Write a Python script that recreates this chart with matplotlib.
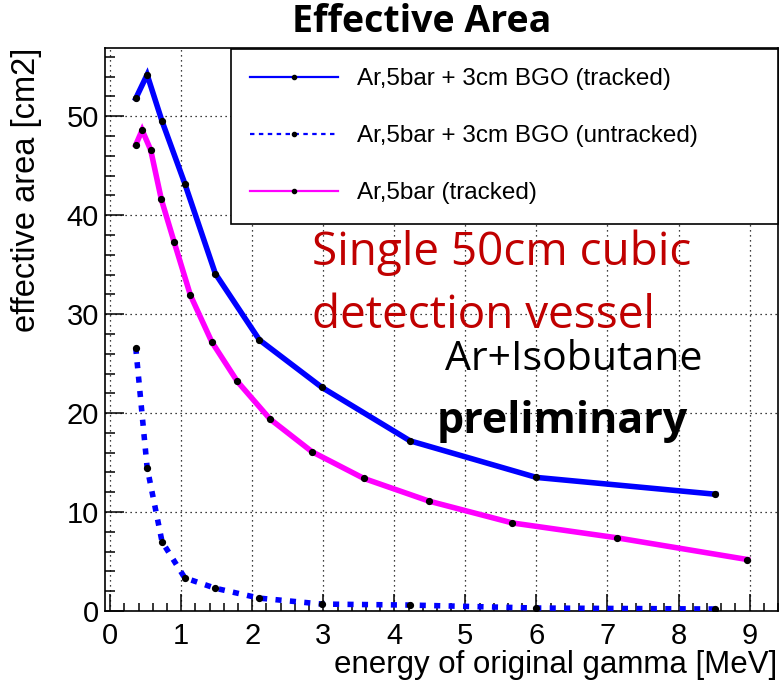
#!/usr/bin/env python3
"""
Effective area vs. gamma energy for the 50cm cubic gas vessel,
with and without the 3cm BGO layer.
"""

import matplotlib
matplotlib.use('Agg')
import matplotlib.pyplot as plt
from matplotlib.lines import Line2D
from matplotlib.ticker import MultipleLocator

# energies [MeV] and effective areas [cm2]
bgo_energy = [0.36, 0.52, 0.73, 1.05, 1.48, 2.10, 2.98, 4.22, 6.00, 8.52]
bgo_tracked = [51.8, 54.2, 49.5, 43.2, 34.1, 27.4, 22.6, 17.2, 13.5, 11.8]
bgo_untracked = [26.6, 14.5, 7.0, 3.35, 2.3, 1.3, 0.7, 0.6, 0.3, 0.2]

ar_energy = [0.36, 0.45, 0.57, 0.72, 0.90, 1.13, 1.43, 1.79, 2.25, 2.84,
             3.57, 4.49, 5.66, 7.13, 8.97]
ar_tracked = [47.1, 48.6, 46.6, 41.6, 37.3, 31.9, 27.2, 23.2, 19.4, 16.1,
              13.4, 11.1, 8.9, 7.4, 5.2]

legend_labels = ['Ar,5bar + 3cm BGO (tracked)',
                 'Ar,5bar + 3cm BGO (untracked)',
                 'Ar,5bar (tracked)']

W, H = 779, 682
ROOT_FONT = 'Liberation Sans'
SLIDE_FONT = 'Open Sans'


def fx(px):
    return px / W


def fy(py):
    return 1 - py / H


fig = plt.figure(figsize=(W / 100, H / 100), dpi=100)
ax = fig.add_axes([fx(104.5), fy(611), fx(778) - fx(104.5), fy(48) - fy(611)])

line_kw = dict(lw=4, marker='o', ms=4.2, mfc='black', mec='black',
               solid_joinstyle='miter', zorder=3)
ax.plot(bgo_energy, bgo_tracked, color='#0000ff', **line_kw)
ax.plot(bgo_energy, bgo_untracked, color='#0000ff', dashes=(1.1, 1.5),
        dash_capstyle='butt', **line_kw)
ax.plot(ar_energy, ar_tracked, color='#ff00ff', **line_kw)

ax.set_xlim(-0.08, 9.4)
ax.set_ylim(0, 56.9)
ax.xaxis.set_major_locator(MultipleLocator(1))
ax.xaxis.set_minor_locator(MultipleLocator(0.2))
ax.yaxis.set_major_locator(MultipleLocator(10))
ax.yaxis.set_minor_locator(MultipleLocator(2))
ax.grid(True, which='major', color='black', lw=0.9, linestyle=(0, (1, 3)))

ax.tick_params(axis='both', which='both', direction='in', top=False, right=False,
               width=1.1, colors='black')
ax.tick_params(axis='y', which='major', length=14, pad=4)
ax.tick_params(axis='y', which='minor', length=7)
ax.tick_params(axis='x', which='major', length=12, pad=8)
ax.tick_params(axis='x', which='minor', length=6)
for lab in ax.get_xticklabels() + ax.get_yticklabels():
    lab.set_fontfamily(ROOT_FONT)
    lab.set_fontsize(21)
for sp in ax.spines.values():
    sp.set_linewidth(1.2)

fig.text(fx(777), fy(673), 'energy of original gamma [MeV]', ha='right',
         va='baseline', fontsize=22.5, family=ROOT_FONT)
fig.text(fx(27), fy(48), 'effective area [cm2]', rotation=90, ha='center',
         va='top', fontsize=23.5, family=ROOT_FONT)

# legend box spanning to the right edge of the frame
handles = [
    Line2D([], [], color='#0000ff', lw=1.6, marker='o', ms=3, mfc='black', mec='black'),
    Line2D([], [], color='#0000ff', lw=1.6, dashes=(2, 2), marker='o', ms=3,
           mfc='black', mec='black'),
    Line2D([], [], color='#ff00ff', lw=1.6, marker='o', ms=3, mfc='black', mec='black'),
]
leg = ax.legend(handles, legend_labels, loc='upper left', mode='expand',
                bbox_to_anchor=(fx(231), fy(223), fx(778) - fx(231), fy(49) - fy(223)),
                bbox_transform=fig.transFigure, borderaxespad=0,
                prop={'family': ROOT_FONT, 'size': 17.5}, handlelength=3.6,
                handletextpad=0.8, labelspacing=1.44, borderpad=0.8,
                fancybox=False, framealpha=1, edgecolor='black')
leg.get_frame().set_linewidth(1.2)
leg.set_zorder(5)

# slide annotations
fig.text(fx(422), fy(32), 'Effective Area', ha='center', va='baseline',
         fontsize=27, fontweight='bold', family=SLIDE_FONT)
fig.text(fx(312), fy(265), 'Single 50cm cubic', ha='left', va='baseline',
         fontsize=33, color='#c00000', family=SLIDE_FONT, zorder=6)
fig.text(fx(312), fy(328), 'detection vessel', ha='left', va='baseline',
         fontsize=33, color='#c00000', family=SLIDE_FONT, zorder=6)
fig.text(fx(445), fy(370), 'Ar+Isobutane', ha='left', va='baseline',
         fontsize=29.5, color='black', family=SLIDE_FONT, zorder=6)
fig.text(fx(437), fy(433), 'preliminary', ha='left', va='baseline',
         fontsize=31, fontweight='bold', color='black', family=SLIDE_FONT, zorder=6)

fig.savefig('out.png', dpi=100)
